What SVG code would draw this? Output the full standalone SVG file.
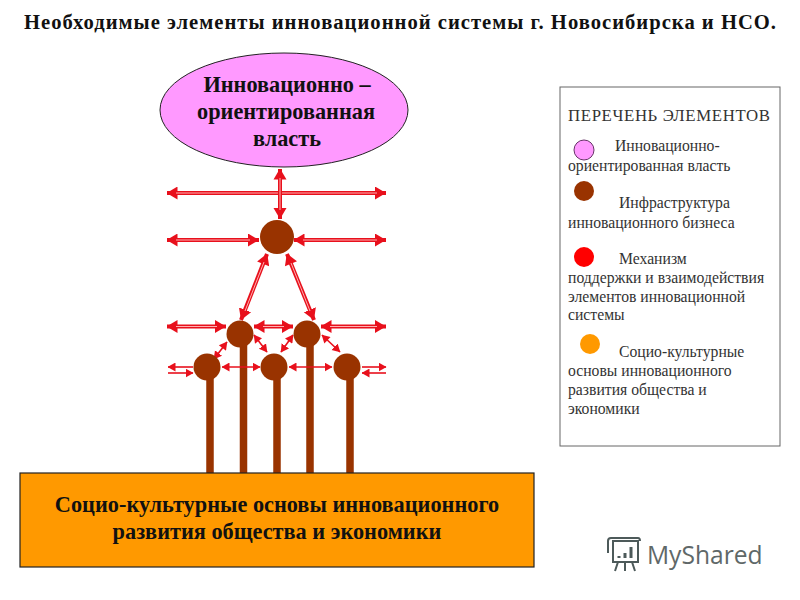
<svg xmlns="http://www.w3.org/2000/svg" width="800" height="600" viewBox="0 0 800 600">
<style>
text{font-family:"Liberation Serif","Times New Roman",serif;fill:#1a1a1a}
.t{font-size:20.600px;font-weight:bold;fill:#111}
.n{font-size:22.300px;font-weight:bold;text-anchor:middle;fill:#111}
.l{font-size:15.700px;fill:#333}
.a{stroke:#e8101c;fill:none;stroke-width:4;marker-start:url(#hs);marker-end:url(#he)}
.i{stroke:#ffb0b0;stroke-width:1;fill:none}
.b{stroke:#e8101c;fill:none;stroke-width:1.600;marker-start:url(#ss);marker-end:url(#se)}
.c{fill:#993300}
.s{fill:none;stroke:#993300;stroke-width:7.500}
</style>
<defs>
<marker id="he" markerUnits="userSpaceOnUse" markerWidth="12" markerHeight="14" refX="11" refY="6.500" orient="auto"><path d="M0 0L11 6.500L0 13Z" fill="#e8101c"/></marker>
<marker id="hs" markerUnits="userSpaceOnUse" markerWidth="12" markerHeight="14" refX="0.500" refY="6.500" orient="auto"><path d="M11 0L0 6.500L11 13Z" fill="#e8101c"/></marker>
<marker id="se" markerUnits="userSpaceOnUse" markerWidth="9" markerHeight="10" refX="7.500" refY="4.500" orient="auto"><path d="M0 0L8 4.500L0 9Z" fill="#e8101c"/></marker>
<marker id="ss" markerUnits="userSpaceOnUse" markerWidth="9" markerHeight="10" refX="0.500" refY="4.500" orient="auto"><path d="M8 0L0 4.500L8 9Z" fill="#e8101c"/></marker>
</defs>
<rect width="800" height="600" fill="#fff"/>
<text class="t" x="24" y="29" textLength="752">Необходимые элементы  инновационной системы  г. Новосибирска и НСО.</text>
<g id="connectors">
<path class="s" d="M210 378V473M243.500 345V473M277 378V473M310 345V473M350 378V473"/>
<path class="a" d="M167 193H386"/><path class="i" d="M176 193H377"/>
<path class="a" d="M280 169V219"/><path class="i" d="M280 178V210"/>
<path class="a" d="M167 240H259"/><path class="i" d="M176 240H250"/>
<path class="a" d="M294 240H386"/><path class="i" d="M303 240H377"/>
<path class="a" d="M267 254L241 320"/><path class="i" d="M264 262L245 311"/>
<path class="a" d="M287 254L314 320"/><path class="i" d="M291 263L310 311"/>
<path class="a" d="M167 326.500H226"/><path class="i" d="M176 326.500H217"/>
<path class="a" d="M254 326.500H293"/><path class="i" d="M263 326.500H284"/>
<path class="a" d="M321 326.500H386"/><path class="i" d="M330 326.500H377"/>
<path class="b" style="marker-end:none" d="M168 367H193"/>
<path class="b" style="marker-start:none" d="M168 373H193"/>
<path class="b" d="M222 367H260"/>
<path class="b" d="M289 367H332"/>
<path class="b" style="marker-start:none" d="M362 367H386"/>
<path class="b" style="marker-end:none" d="M362 373H386"/>
<path class="b" d="M227 342L214 359"/>
<path class="b" d="M254 335L267 352"/>
<path class="b" d="M293 335L281 352"/>
<path class="b" d="M322 335L340 352"/>
</g>
<g id="node-power">
<ellipse cx="284" cy="110" rx="124" ry="57" fill="#ff99ff" stroke="#222" stroke-width="1"/>
<text class="n" x="287" y="92">Инновационно –</text>
<text class="n" x="286" y="119">ориентированная</text>
<text class="n" x="287" y="146">власть</text>
</g>
<g id="node-hub"><circle class="c" cx="277" cy="237" r="17"/></g>
<g id="node-mid-1"><circle class="c" cx="240" cy="334" r="13.500"/></g>
<g id="node-mid-2"><circle class="c" cx="307" cy="334" r="13.500"/></g>
<g id="node-low-1"><circle class="c" cx="207" cy="367" r="13.500"/></g>
<g id="node-low-2"><circle class="c" cx="274" cy="367" r="13.500"/></g>
<g id="node-low-3"><circle class="c" cx="347" cy="367" r="13.500"/></g>
<g id="node-base">
<rect x="20" y="473" width="514" height="94" fill="#ff9900" stroke="#222" stroke-width="1.200"/>
<text class="n" x="277" y="512">Социо-культурные основы инновационного</text>
<text class="n" x="277" y="539">развития общества и экономики</text>
</g>
<g id="legend">
<rect x="560" y="87" width="220" height="359" fill="#fff" stroke="#666" stroke-width="1"/>
<text class="l" x="568" y="121" style="font-size:16.800px" textLength="202">ПЕРЕЧЕНЬ ЭЛЕМЕНТОВ</text>
<circle cx="584" cy="150" r="10" fill="#ff99ff" stroke="#663366" stroke-width="1"/>
<text class="l" x="615" y="151">Инновационно-</text>
<text class="l" x="568" y="171">ориентированная власть</text>
<circle class="c" cx="584" cy="191" r="10"/>
<text class="l" x="619" y="208">Инфраструктура</text>
<text class="l" x="568" y="228">инновационного бизнеса</text>
<circle cx="584" cy="257" r="10" fill="#ff0000"/>
<text class="l" x="619" y="264">Механизм</text>
<text class="l" x="568" y="283">поддержки и взаимодействия</text>
<text class="l" x="568" y="302">элементов инновационной</text>
<text class="l" x="568" y="320">системы</text>
<circle cx="590" cy="344" r="10" fill="#ff9900"/>
<text class="l" x="619" y="357">Социо-культурные</text>
<text class="l" x="568" y="376">основы инновационного</text>
<text class="l" x="568" y="395">развития общества и</text>
<text class="l" x="568" y="414">экономики</text>
</g>
<g id="watermark" fill="none" stroke="#4d5a5a" stroke-width="2">
<path d="M613 541H638V562H613ZM608 553V541Q608 538 611 538H638Q640 538 640 541M618 562L615 571M625 562V571M632 562L635 571"/>
<path d="M619 558V556M625 558V553M631 558V547" stroke-width="3"/>
<text x="647" y="564" style="font-family:'Open Sans',sans-serif;font-size:24.600px;fill:#5f6868;stroke:none">MyShared</text>
</g>
</svg>
